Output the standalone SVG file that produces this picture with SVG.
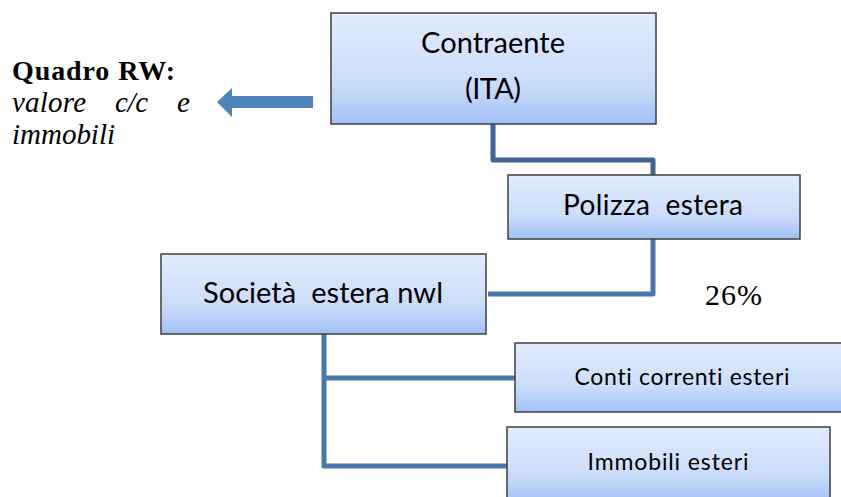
<svg xmlns="http://www.w3.org/2000/svg" width="841" height="497" viewBox="0 0 841 497">
<defs>
<linearGradient id="g" x1="0" y1="0" x2="0" y2="1">
<stop offset="0" stop-color="#E2ECFC"/>
<stop offset="0.65" stop-color="#CADCFA"/>
<stop offset="1" stop-color="#A2C0F6"/>
</linearGradient>
<style>
.box{fill:url(#g);stroke:#3F3F3F;stroke-width:1.5}
.lbl{font-family:Lato,"Liberation Sans",sans-serif;fill:#000;text-anchor:middle;font-variant-ligatures:none}
.con{fill:none;stroke:#4A76AE;stroke-width:5;stroke-linejoin:round}
.ser{font-family:"Liberation Serif","Times New Roman",serif;fill:#000}
.it{font-style:italic;font-size:29px}
</style>
</defs>
<rect width="841" height="497" fill="#fff"/>
<g id="connectors">
<polyline class="con" style="stroke:#3F6595" points="493,124 493,160 653,160 653,175"/>
<polyline class="con" points="653,239 653,294 488,294"/>
<polyline class="con" points="324,334 324,466 507,466"/>
<polyline class="con" points="324,378 515,378"/>
<polygon points="313,96 232,96 232,88 217,102 232,117 232,108 313,108" fill="#4F81BD"/>
</g>
<g id="contraente">
<rect class="box" x="331" y="13" width="325" height="111"/>
<text class="lbl" x="493" y="53" font-size="29" textLength="144">Contraente</text>
<text class="lbl" x="493" y="99" font-size="29" textLength="56">(ITA)</text>
</g>
<g id="polizza">
<rect class="box" x="508" y="175" width="292" height="64"/>
<text class="lbl" x="653" y="215" font-size="28" textLength="180" xml:space="preserve">Polizza  estera</text>
</g>
<g id="societa">
<rect class="box" x="161" y="254" width="325" height="80"/>
<text class="lbl" x="323" y="303" font-size="29" textLength="240" xml:space="preserve">Società  estera nwl</text>
</g>
<g id="conti">
<rect class="box" x="515" y="343" width="333" height="69"/>
<text class="lbl" x="682" y="385" font-size="23" textLength="215">Conti correnti esteri</text>
</g>
<g id="immobili">
<rect class="box" x="507" y="427" width="323" height="75"/>
<text class="lbl" x="668" y="470" font-size="23" textLength="161">Immobili esteri</text>
</g>
<g id="quadro">
<text class="ser" x="12" y="80" font-size="28" font-weight="bold" textLength="163">Quadro RW:</text>
<text class="ser it" x="12" y="112" textLength="74">valore</text>
<text class="ser it" x="115" y="112" textLength="33">c/c</text>
<text class="ser it" x="177" y="112" textLength="13">e</text>
<text class="ser it" x="12" y="144" textLength="103">immobili</text>
</g>
<text class="ser" x="705" y="305" font-size="30" textLength="57">26%</text>
</svg>
